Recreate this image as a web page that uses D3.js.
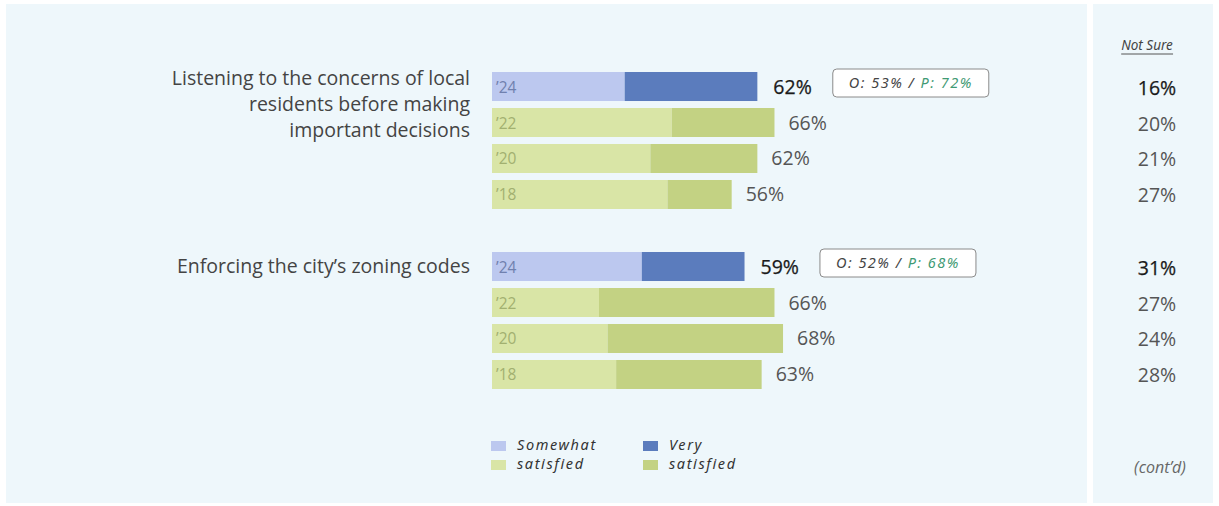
<!DOCTYPE html>
<html>
<head>
<meta charset="utf-8">
<script src="https://cdn.jsdelivr.net/npm/d3@7"></script>
<style>
  body { margin: 0; background: #fff; }
  svg { display: block; font-family: "Open Sans", "Noto Sans", sans-serif; }
</style>
</head>
<body>
<svg id="chart"></svg>
<script>
// chart data
const categories = ["listening", "zoning"];
const categoryLines = [
  ["Listening to the concerns of local", "residents before making", "important decisions"],
  ["Enforcing the city\u2019s zoning codes"]
];
const years = ["\u201924", "\u201922", "\u201920", "\u201918"];
const somewhat = [[31, 42, 37, 41], [35, 25, 27, 29]];
const very = [[31, 24, 25, 15], [24, 41, 41, 34]];
const totals = [[62, 66, 62, 56], [59, 66, 68, 63]];
const notSure = [[16, 20, 21, 27], [31, 27, 24, 28]];
const subgroups = [["O: 53%", "P: 72%"], ["O: 52%", "P: 68%"]];
const legendItems = [["Somewhat", "satisfied"], ["Very", "satisfied"]];

const width = 1219, height = 506;
const colors = {
  somewhatNow: "#bcc8ef", veryNow: "#5b7cbd",
  somewhatPast: "#d9e5a6", veryPast: "#c3d283",
  panel: "#eef7fb"
};
const hand = "'Segoe Print', 'Comic Sans MS', 'Noto Sans', sans-serif";

const svg = d3.select("#chart")
    .attr("width", width)
    .attr("height", height);

// panels
svg.append("rect").attr("x", 6).attr("y", 4).attr("width", 1081).attr("height", 499).attr("fill", colors.panel);
svg.append("rect").attr("x", 1093).attr("y", 4).attr("width", 120).attr("height", 499).attr("fill", colors.panel);

const x = d3.scaleLinear().domain([0, 100]).range([492, 920]);
const groupY = d3.scaleBand().domain(categories).range([72, 432]);
const rowY = d3.scaleBand().domain(years).range([0, 137]).paddingInner(0.194);

categories.forEach((cat, g) => {
  const top = groupY(cat);
  const grp = svg.append("g").attr("transform", `translate(0,${top})`);

  const rows = years.map((yr, i) => ({
    yr, i, s: somewhat[g][i], v: very[g][i], t: totals[g][i], ns: notSure[g][i]
  }));

  // category label
  const nl = categoryLines[g].length;
  grp.append("text")
      .attr("text-anchor", "end")
      .attr("fill", "#444")
      .attr("font-size", 19.5)
      .selectAll("tspan")
      .data(categoryLines[g])
      .join("tspan")
        .attr("x", 470)
        .attr("y", (d, i) => (nl === 1 ? 21 : 13) + i * 26)
        .text(d => d);

  // somewhat satisfied
  grp.selectAll("rect.s")
    .data(rows)
    .join("rect")
      .attr("class", "s")
      .attr("x", x(0))
      .attr("y", d => rowY(d.yr))
      .attr("width", d => x(d.s) - x(0))
      .attr("height", rowY.bandwidth())
      .attr("fill", d => d.i === 0 ? colors.somewhatNow : colors.somewhatPast);

  // very satisfied
  grp.selectAll("rect.v")
    .data(rows)
    .join("rect")
      .attr("class", "v")
      .attr("x", d => x(d.s))
      .attr("y", d => rowY(d.yr))
      .attr("width", d => x(d.s + d.v) - x(d.s))
      .attr("height", rowY.bandwidth())
      .attr("fill", d => d.i === 0 ? colors.veryNow : colors.veryPast);

  // year labels inside bars
  grp.selectAll("text.yr")
    .data(rows)
    .join("text")
      .attr("class", "yr")
      .attr("x", x(0) + 4)
      .attr("y", d => rowY(d.yr) + rowY.bandwidth() / 2 + 6)
      .attr("font-size", 15.5)
      .attr("fill", d => d.i === 0 ? "#7080ae" : "#a2b070")
      .text(d => d.yr);

  // total labels
  const totalLabels = grp.selectAll("text.tot")
    .data(rows)
    .join("text")
      .attr("class", "tot")
      .attr("x", d => x(d.t) + (d.i === 0 ? 16 : 14))
      .attr("y", d => rowY(d.yr) + rowY.bandwidth() / 2 + 7)
      .attr("font-size", 19.5)
      .attr("fill", d => d.i === 0 ? "#1a1a1a" : "#555")
      .style("stroke", d => d.i === 0 ? "#1a1a1a" : "none")
      .style("stroke-width", 0.25)
      .text(d => d.t + "%");

  // subgroup box next to the current year
  const firstEnd = totalLabels.node().getBBox();
  const bx = firstEnd.x + firstEnd.width + 21;
  const by = rowY(years[0]) - 3;
  const box = grp.append("g").attr("transform", `translate(${bx},${by})`);
  box.append("rect")
      .attr("width", 156).attr("height", 28).attr("rx", 4)
      .attr("fill", "#fff").attr("stroke", "#8a8a8a").attr("stroke-width", 1);
  const bt = box.append("text")
      .attr("x", 78).attr("y", 19)
      .attr("text-anchor", "middle")
      .attr("font-family", hand)
      .attr("font-style", "italic")
      .attr("font-size", 14.5)
      .attr("letter-spacing", 1.5);
  bt.append("tspan").attr("fill", "#444").text(subgroups[g][0] + " / ");
  bt.append("tspan").attr("fill", "#3f9a74").text(subgroups[g][1]);

  // not sure column
  grp.selectAll("text.ns")
    .data(rows)
    .join("text")
      .attr("class", "ns")
      .attr("x", 1157)
      .attr("y", d => rowY(d.yr) + rowY.bandwidth() / 2 + 8)
      .attr("text-anchor", "middle")
      .attr("font-size", 19.5)
      .attr("fill", d => d.i === 0 ? "#1a1a1a" : "#555")
      .style("stroke", d => d.i === 0 ? "#1a1a1a" : "none")
      .style("stroke-width", 0.25)
      .text(d => d.ns + "%");
});

// not sure header
const hdr = svg.append("text")
    .attr("x", 1147).attr("y", 50)
    .attr("text-anchor", "middle")
    .attr("font-family", hand)
    .attr("font-style", "italic")
    .attr("font-size", 13.5)
    .attr("fill", "#444")
    .text("Not Sure");
const hb = hdr.node().getBBox();
svg.append("line")
    .attr("x1", hb.x).attr("x2", hb.x + hb.width)
    .attr("y1", 54).attr("y2", 54)
    .attr("stroke", "#555").attr("stroke-width", 1);

// legend
const legend = svg.append("g").attr("transform", "translate(491,441)");
legendItems.forEach((lines, k) => {
  const lg = legend.append("g").attr("transform", `translate(${k * 152},0)`);
  lg.append("rect").attr("width", 15).attr("height", 10)
      .attr("fill", k === 0 ? colors.somewhatNow : colors.veryNow);
  lg.append("rect").attr("y", 19).attr("width", 15).attr("height", 10)
      .attr("fill", k === 0 ? colors.somewhatPast : colors.veryPast);
  lg.append("text")
      .attr("font-family", hand)
      .attr("font-style", "italic")
      .attr("font-size", 14.5)
      .attr("letter-spacing", 1.6)
      .attr("fill", "#333")
      .selectAll("tspan")
      .data(lines)
      .join("tspan")
        .attr("x", 26)
        .attr("y", (d, i) => 9 + i * 19)
        .text(d => d);
});

// continued note
svg.append("text")
    .attr("x", 1160).attr("y", 473)
    .attr("text-anchor", "middle")
    .attr("font-style", "italic")
    .attr("font-size", 16)
    .attr("fill", "#666")
    .text("(cont\u2019d)");
</script>
</body>
</html>
